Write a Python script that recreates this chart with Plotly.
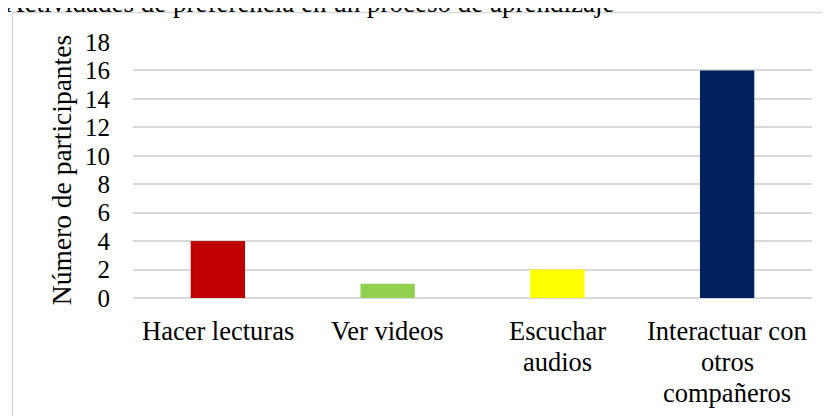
import plotly.graph_objects as go

categories = ["Hacer lecturas", "Ver videos", "Escuchar<br>audios", "Interactuar con<br>otros<br>compañeros"]
values = [4, 1, 2, 16]
bar_colors = ["#C00000", "#92D050", "#FFFF00", "#002060"]
y_ticks = [0, 2, 4, 6, 8, 10, 12, 14, 16, 18]
title_text = "Actividades de preferencia en un proceso de aprendizaje"
y_title = "Número de participantes"

W, H = 830, 416
L, R, T, B = 125, 26, 34, 126
pw, ph = W - L - R, H - T - B

def px(x):
    return (x - L) / pw

def py(y):
    return (H - B - y) / ph

FONT = "Liberation Serif, Times New Roman, serif"

fig = go.Figure(go.Bar(
    x=categories, y=values, marker_color=bar_colors, marker_line_width=0,
    width=0.32, hoverinfo="skip"
))

annotations = [dict(
    text=title_text, xref="paper", yref="paper", x=px(-5), y=py(12),
    xanchor="left", yanchor="bottom", showarrow=False,
    font=dict(size=27, family=FONT, color="#000000"),
)]

line_y = [323, 354, 385]
for cat in categories:
    for i, line in enumerate(cat.split("<br>")):
        annotations.append(dict(
            text=line, xref="x", yref="paper", x=cat, y=py(line_y[i]),
            xanchor="center", yanchor="middle", showarrow=False,
            font=dict(size=26.5, family=FONT, color="#000000"),
        ))

fig.update_layout(
    width=W, height=H,
    margin=dict(l=L, r=R, t=T, b=B, autoexpand=False),
    paper_bgcolor="white", plot_bgcolor="white",
    font=dict(family=FONT, size=25, color="#000000"),
    showlegend=False,
    xaxis=dict(
        type="category", showgrid=False, showline=False, zeroline=False,
        ticks="", showticklabels=False,
        automargin=False, fixedrange=True,
    ),
    yaxis=dict(
        range=[0, 18], tickvals=y_ticks, showgrid=True, gridcolor="#d9d9d9",
        gridwidth=1.5, zeroline=True, zerolinecolor="#d9d9d9", zerolinewidth=1.5,
        showline=False, ticks="", ticklabelstandoff=22, tickfont=dict(size=25),
        title=dict(text=y_title, font=dict(size=27.5), standoff=5),
        automargin=False, fixedrange=True,
    ),
    shapes=[dict(
        type="rect", xref="paper", yref="paper",
        x0=px(4.5), x1=px(845), y0=py(430), y1=py(4.5),
        line=dict(color="#d9d9d9", width=1.5), fillcolor="rgba(0,0,0,0)", layer="below",
    )],
    annotations=annotations,
)

fig.write_html("out.html")
